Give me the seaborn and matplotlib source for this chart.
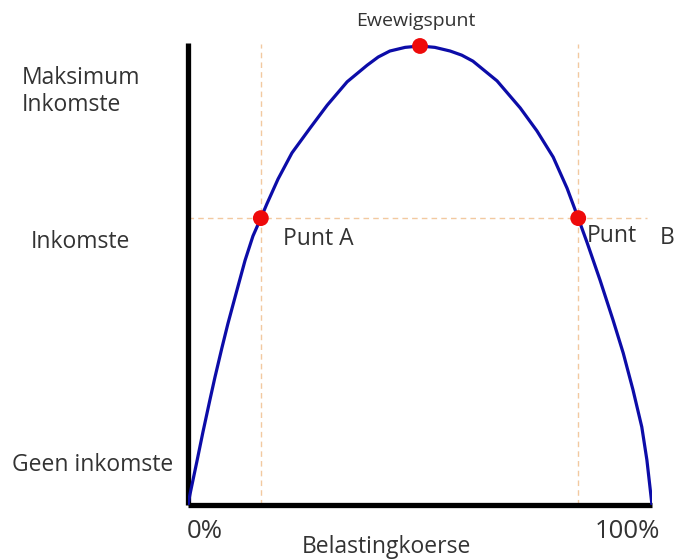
import matplotlib
matplotlib.use("Agg")
import matplotlib.pyplot as plt
import seaborn as sns
import pandas as pd

# Laffer curve (tax rate %, revenue % of maximum)
tax_rate = [0, 0.4, 1.9, 3.2, 4.7, 5.8, 7.3, 8.6, 10.6, 12.3, 14.0, 15.7, 17.0, 19.4,
            22.4, 26.3, 30.0, 34.3, 38.6, 41.0, 43.5, 46.8, 50.0, 53.2, 56.5, 59.0,
            61.4, 66.6, 71.6, 75.2, 78.7, 81.7, 84.1, 86.0, 88.8, 91.6, 93.8, 95.9,
            97.8, 98.9, 100]
revenue = [0, 2.2, 9.4, 15.8, 22.8, 27.8, 34.2, 39.5, 47.0, 53.3, 58.6, 62.5, 65.6, 71.0,
           76.7, 82.1, 87.1, 92.2, 95.8, 97.6, 98.9, 99.7, 100.0, 99.7, 98.9, 98.0,
           96.7, 92.4, 86.5, 81.5, 75.8, 69.0, 62.5, 57.2, 49.0, 40.3, 33.1, 25.1,
           17.0, 9.8, 0]

point_x = [15.7, 50.0, 84.1]
point_y = [62.5, 100.0, 62.5]
guide_level = 62.5

sns.set_theme(style="white")
plt.rcParams['font.family'] = ['Open Sans', 'DejaVu Sans']

W, H = 674, 559
fig = plt.figure(figsize=(W / 100, H / 100), dpi=100)
ax = fig.add_axes([188 / W, (H - 505) / H, 464 / W, 462 / H])

df = pd.DataFrame({'rate': tax_rate, 'rev': revenue})

# guide lines
guide = dict(color='#f2c9a0', lw=1, ls=(0, (4, 3)), zorder=1)
ax.plot([point_x[0], point_x[0]], [0, 100.4], **guide)
ax.plot([point_x[2], point_x[2]], [0, 100.4], **guide)
ax.plot([0, 99], [guide_level, guide_level], **guide)

sns.lineplot(data=df, x='rate', y='rev', ax=ax, color='#0c0ca8', lw=2.3,
             sort=False, zorder=3)
ax.scatter(point_x, point_y, s=130, color='#ee0a0a', zorder=4, edgecolor='none',
           clip_on=False)

ax.set_xlim(0, 100)
ax.set_ylim(0, 100.65)
ax.set_xticks([])
ax.set_yticks([])
ax.set_xlabel('')
ax.set_ylabel('')
sns.despine(ax=ax)
for s in ['left', 'bottom']:
    ax.spines[s].set_linewidth(3.8)
    ax.spines[s].set_color('black')
    ax.spines[s].set_capstyle('butt')

def label(x, y, s, ha='left', size=16.5):
    fig.text(x / W, 1 - y / H, s, ha=ha, va='center', fontsize=size, color='#333333')

label(416, 21, 'Ewewigspunt', ha='center', size=14)
label(283, 239, 'Punt A')
label(587, 236, 'Punt')
label(660, 238, 'B')
label(22, 78, 'Maksimum')
label(22, 105, 'Inkomste')
label(31, 242, 'Inkomste')
label(12, 465, 'Geen inkomste')
label(187, 532, '0%', size=18.5)
label(595, 532, '100%', size=18.5)
label(386, 547, 'Belastingkoerse', ha='center')

fig.savefig('out.png', dpi=100, facecolor='white')
